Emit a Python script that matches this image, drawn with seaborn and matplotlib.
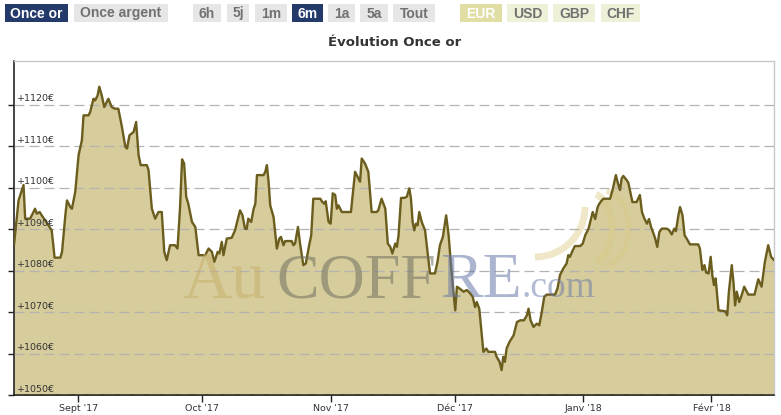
import pandas as pd
import seaborn as sns
import matplotlib.pyplot as plt
from matplotlib.patches import Rectangle, Arc
from matplotlib.transforms import IdentityTransform, blended_transform_factory

# Gold ounce price in EUR (days counted from 1 Sept 2017)
day_offsets = [
    -15.5, -14.4, -13.2, -12.8, -11.6, -10.4, -10.0, -9.3, -8.8, -8.0, -7.2, -6.4,
    -6.0, -5.7, -4.3, -3.9, -3.1, -2.7, -1.9, -1.5, -0.7,
    0.1, 0.9, 1.3, 2.5, 2.9, 3.3, 3.7, 4.1, 4.7, 5.1, 5.7, 6.3, 6.9, 7.3, 8.1,
    8.9, 9.7, 10.5, 11.4, 11.8, 12.4, 13.4, 14.0, 14.6, 15.1, 16.6, 17.0, 17.8,
    18.6, 19.4, 20.2, 20.8, 21.4, 22.2, 23.4, 24.0, 24.6, 25.1, 25.6, 26.1, 26.6,
    27.5, 28.3, 29.1, 30.7,
    31.5, 32.3, 32.9, 33.7, 34.1, 34.7, 35.1, 35.9, 37.1, 37.9, 39.1, 39.7, 40.3,
    40.7, 41.1, 41.8, 42.4, 42.8, 43.2, 44.8, 45.2, 45.6, 46.0, 46.4, 47.2, 48.0,
    48.6, 49.0, 49.6, 50.0, 51.6, 52.0, 52.4, 53.1, 53.6, 54.4, 55.0, 55.8, 56.3,
    56.8, 58.5, 59.0, 59.5, 59.8, 60.5,
    61.0, 61.5, 62.1, 62.5, 62.9, 63.7, 65.9, 66.5, 66.9, 67.7, 68.1, 68.5, 69.3,
    70.1, 70.9, 72.1, 72.5, 73.3, 74.2, 74.8, 75.4, 75.9, 76.6, 77.0, 77.4, 78.0,
    78.8, 79.4, 80.0, 80.4, 80.8, 81.2, 81.6, 82.0, 82.4, 83.0, 83.8, 84.4, 85.0,
    86.2, 86.8, 87.4, 88.1, 88.9, 89.5, 90.0, 90.5,
    91.1, 91.5, 92.1, 93.1, 93.9, 94.7, 95.3, 95.9, 96.3, 96.9, 97.9, 98.6, 99.1,
    100.7, 101.1, 101.8, 102.3, 102.7, 103.1, 103.5, 104.2, 105.2, 106.0, 106.8,
    107.7, 108.4, 108.8, 109.3, 110.0, 110.8, 111.4, 112.0, 112.6, 113.2, 115.2,
    115.8, 116.4, 117.2, 118.0, 118.4, 118.8, 119.5, 120.0, 121.3,
    121.9, 122.5, 123.3, 123.7, 124.3, 124.9, 125.5, 125.9, 126.5, 126.9, 128.5,
    129.1, 129.9, 130.4, 130.9, 131.3, 131.7, 132.5, 132.9, 133.9, 134.9, 135.7,
    136.2, 136.8, 137.4, 137.9, 138.4, 139.0, 139.4, 139.9, 140.4, 141.0, 142.2,
    142.8, 143.4, 144.0, 144.4, 145.0, 145.4, 146.0, 146.5, 147.0, 147.8, 149.8,
    150.2, 150.8, 151.3, 151.7, 152.3,
    152.8, 153.2, 153.6, 154.0, 154.7, 156.3, 156.8, 157.2, 157.9, 158.3, 158.7,
    159.1, 159.7, 160.3, 160.9, 161.9, 163.4, 164.3, 165.1, 165.9, 166.7, 167.4, 168.1,
]
prices = [
    1086.1, 1096.9, 1100.6, 1092.5, 1092.5, 1094.9, 1093.7, 1094.1, 1093.3, 1092.1, 1090.9, 1089.7,
    1086.1, 1083.1, 1083.1, 1084.5, 1093.3, 1096.9, 1095.3, 1094.9, 1099.0,
    1107.8, 1111.4, 1117.4, 1117.4, 1118.2, 1119.8, 1121.4, 1121.0, 1122.2, 1124.3, 1122.2, 1119.4, 1120.6, 1121.4, 1119.4,
    1119.0, 1119.0, 1115.0, 1109.8, 1109.4, 1112.6, 1113.4, 1115.8, 1107.8, 1105.4, 1105.4, 1104.2, 1094.9,
    1092.5, 1094.1, 1094.1, 1084.5, 1082.5, 1086.1, 1086.1, 1085.3, 1094.9, 1106.8, 1105.8, 1097.8, 1096.1,
    1091.7, 1090.5, 1083.7, 1083.7,
    1085.3, 1084.5, 1082.1, 1084.5, 1084.1, 1086.9, 1083.7, 1087.7, 1087.9, 1089.7, 1094.5, 1093.3, 1090.1,
    1090.0, 1092.5, 1091.7, 1094.9, 1096.1, 1103.0, 1103.0, 1103.8, 1105.4, 1101.4, 1095.7, 1092.9, 1085.3,
    1087.7, 1088.1, 1086.1, 1087.1, 1087.1, 1086.1, 1086.5, 1090.5, 1086.5, 1081.3, 1081.7, 1086.1, 1088.5,
    1097.3, 1097.3, 1096.5, 1096.1, 1096.7, 1091.7,
    1091.3, 1098.6, 1098.2, 1094.9, 1095.7, 1094.1, 1094.1, 1099.8, 1103.8, 1102.2, 1101.4, 1107.0, 1105.8,
    1103.8, 1094.1, 1094.1, 1094.5, 1097.3, 1094.9, 1086.5, 1085.7, 1084.1, 1086.5, 1085.7, 1088.5, 1097.5,
    1097.5, 1097.8, 1099.8, 1097.3, 1091.7, 1089.7, 1091.3, 1090.9, 1094.1, 1091.7, 1089.7, 1084.5, 1079.3,
    1079.3, 1082.1, 1086.1, 1088.1, 1093.3, 1088.5, 1082.1, 1076.5,
    1070.4, 1076.1, 1075.7, 1074.9, 1075.3, 1074.5, 1073.7, 1071.2, 1072.4, 1070.8, 1060.4, 1061.2, 1060.4,
    1060.4, 1059.2, 1058.0, 1056.0, 1059.2, 1058.0, 1061.2, 1062.8, 1064.4, 1067.6, 1068.0,
    1068.0, 1069.2, 1070.8, 1068.0, 1066.4, 1067.2, 1066.8, 1070.0, 1073.7, 1074.2, 1074.2,
    1075.7, 1078.9, 1080.5, 1081.7, 1083.7, 1083.3, 1084.9, 1085.9, 1085.9,
    1086.5, 1088.5, 1090.1, 1091.7, 1094.1, 1092.4, 1095.3, 1096.1, 1096.9, 1097.3, 1097.3,
    1099.4, 1103.0, 1101.0, 1099.4, 1102.2, 1102.8, 1101.8, 1101.2, 1096.5, 1096.5, 1098.2,
    1094.1, 1092.5, 1091.3, 1092.4, 1090.5, 1088.9, 1087.7, 1085.7, 1089.3, 1090.1, 1090.1,
    1089.7, 1088.7, 1090.1, 1089.5, 1093.3, 1095.3, 1093.3, 1088.5, 1087.7, 1086.3, 1086.3,
    1085.3, 1080.1, 1081.3, 1079.5, 1079.3,
    1083.3, 1078.9, 1076.5, 1078.1, 1070.4, 1070.2, 1069.2, 1074.9, 1081.3, 1077.3, 1071.6,
    1074.9, 1072.4, 1074.1, 1076.1, 1074.2, 1074.2, 1077.9, 1076.1, 1082.1, 1086.1, 1083.3, 1082.5,
]

month_starts = ["2017-09-01", "2017-10-01", "2017-11-01", "2017-12-01", "2018-01-01", "2018-02-01"]
month_labels = ["Sept '17", "Oct '17", "Nov '17", "Déc '17", "Janv '18", "Févr '18"]
price_ticks = [1050, 1060, 1070, 1080, 1090, 1100, 1110, 1120]
price_labels = ["+1050€", "+1060€", "+1070€", "+1080€", "+1090€", "+1100€", "+1110€", "+1120€"]

metal_buttons = ["Once or", "Once argent"]
period_buttons = ["6h", "5j", "1m", "6m", "1a", "5a", "Tout"]
currency_buttons = ["EUR", "USD", "GBP", "CHF"]

FILL = "#d6cc9c"
LINE = "#6b5d1d"
NAVY = "#243a6b"

sns.set_style("white")
plt.rcParams["font.family"] = ["DejaVu Sans"]

W, H = 781, 415
origin = pd.Timestamp("2017-09-01")
df = pd.DataFrame({
    "date": origin + pd.to_timedelta(day_offsets, unit="D"),
    "price": prices,
})

fig = plt.figure(figsize=(W / 100, H / 100), dpi=100)
ax = fig.add_axes([14 / W, 20 / H, 760 / W, 334 / H])

# Area + line
ax.fill_between(df["date"], df["price"], 1040, color=FILL, lw=0, zorder=1)
sns.lineplot(data=df, x="date", y="price", ax=ax, color=LINE, lw=1.7, zorder=4)

ax.set_xlim(origin + pd.Timedelta(days=-15.5), origin + pd.Timedelta(days=168.1))
ax.set_ylim(1050, 1130.5)
ax.set_xlabel("")
ax.set_ylabel("")

# Grid and ticks
ax.set_axisbelow(False)
ax.set_yticks(price_ticks)
ax.yaxis.grid(True, color="#b3b3b3", lw=0.9, ls=(0, (8, 4)))
ax.xaxis.grid(False)
ax.tick_params(axis="y", length=4, width=1, color="#222222", labelleft=False, left=True)
ax.set_xticks(pd.to_datetime(month_starts))
ax.set_xticklabels(month_labels)
ax.tick_params(axis="x", length=5, width=1, color="#222222", labelsize=6.8,
               labelcolor="#333333", pad=1.5, bottom=True)

blend = blended_transform_factory(ax.transAxes, ax.transData)
for v, lbl in zip(price_ticks, price_labels):
    ax.annotate(lbl, xy=(0, v), xycoords=blend, xytext=(2.2, 1.0),
                textcoords="offset points", ha="left", va="bottom",
                fontsize=6.8, color="#333333", zorder=5)

for side in ["left", "bottom"]:
    ax.spines[side].set_color("#111111")
    ax.spines[side].set_linewidth(1.1)
for side in ["top", "right"]:
    ax.spines[side].set_color("#c8c8c8")
    ax.spines[side].set_linewidth(1)

# AuCOFFRE watermark
def px(x, y):
    return x / W, 1 - y / H

wm = dict(family="Liberation Serif", va="baseline", ha="left", zorder=3)
fig.text(*px(182, 297), "Au", fontsize=49, color="#c8b068", alpha=0.5, **wm)
fig.text(*px(276, 297), "COFF", fontsize=46, color="#707060", alpha=0.55, **wm)
fig.text(*px(440, 297), "RE", fontsize=46, color="#6678a8", alpha=0.55, **wm)
fig.text(*px(521, 297), ".com", fontsize=27, color="#6678a8", alpha=0.5, **wm)

arc_kw = dict(transform=IdentityTransform(), color="#dccb85", alpha=0.45, zorder=2, clip_on=False)
ax.add_patch(Arc((535, 415 - 207), 100, 100, theta1=270, theta2=360, lw=5, **arc_kw))
ax.add_patch(Arc((590, 415 - 228), 44, 70, theta1=-80, theta2=80, lw=5, **arc_kw))
ax.add_patch(Arc((600, 415 - 228), 58, 76, theta1=-80, theta2=80, lw=4, **arc_kw))

# Header buttons
def button(x0, x1, label, bg, fg):
    fig.add_artist(Rectangle(px(x0, 22), (x1 - x0) / W, 18 / H,
                             transform=fig.transFigure, color=bg, lw=0))
    fig.text((x0 + x1) / 2 / W, 1 - 13.5 / H, label, ha="center", va="center",
             color=fg, fontsize=10, fontweight="bold", family="Liberation Sans")

metal_pos = [(5, 68), (74, 168)]
period_pos = [(193, 221), (227, 249), (255, 287), (292, 323), (328, 355), (360, 388), (393, 435)]
currency_pos = [(460, 502), (507, 548), (553, 595), (601, 640)]

for lbl, (a, b) in zip(metal_buttons, metal_pos):
    active = lbl == "Once or"
    button(a, b, lbl, NAVY if active else "#e6e6e6", "white" if active else "#717171")
for lbl, (a, b) in zip(period_buttons, period_pos):
    active = lbl == "6m"
    button(a, b, lbl, NAVY if active else "#e6e6e6", "white" if active else "#717171")
for lbl, (a, b) in zip(currency_buttons, currency_pos):
    active = lbl == "EUR"
    button(a, b, lbl, "#e0dea4" if active else "#eef0d8", "white" if active else "#717171")

fig.text(395 / W, 1 - 42 / H, "Évolution Once or", ha="center", va="center",
         fontsize=9.5, fontweight="bold", color="#333333")

fig.savefig("out.png", dpi=100, facecolor="white")
